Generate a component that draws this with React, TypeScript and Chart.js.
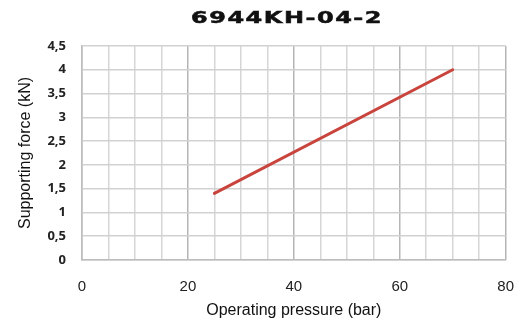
import React, { useEffect, useRef } from "react";
import { Chart, registerables } from "chart.js";

Chart.register(...registerables);

const TITLE = "6944KH-04-2";
const pressure = [25, 70];
const force = [1.4, 4.0];
const xTickLabels = [0, 20, 40, 60, 80];
const yTitle = "Supporting force (kN)";
const xTitle = "Operating pressure (bar)";

export default function App() {
  const ref = useRef<HTMLCanvasElement | null>(null);
  useEffect(() => {
    if (!ref.current) return;
    const chart = new Chart(ref.current, {
      type: "line",
      data: {
        datasets: [
          {
            data: pressure.map((p, i) => ({ x: p, y: force[i] })),
            borderColor: "#c9443d",
            backgroundColor: "#c9443d",
            borderWidth: 3,
            pointRadius: 0,
            borderCapStyle: "round",
            tension: 0,
          },
        ],
      },
      options: {
        animation: false,
        responsive: false,
        maintainAspectRatio: false,
        layout: { padding: { top: 46, right: 26, left: 0, bottom: 0 } },
        plugins: { legend: { display: false }, tooltip: { enabled: false }, title: { display: false } },
        scales: {
          x: {
            type: "linear",
            min: 0,
            max: 80,
            afterFit: (s: any) => {
              s.height = 63;
            },
            border: { display: true, color: "#bdbdbd", width: 1.5 },
            grid: {
              drawTicks: false,
              lineWidth: 1.5,
              color: (ctx: any) =>
                ctx.tick && ctx.tick.value % 20 === 0 ? "#b5b5b5" : "#d6d6d6",
            },
            ticks: {
              stepSize: 5,
              autoSkip: false,
              maxRotation: 0,
              padding: 18,
              color: "#222",
              font: { family: "Liberation Sans", size: 15 },
              callback: (v: any) => (xTickLabels.includes(Number(v)) ? String(v) : ""),
            },
            title: {
              display: true,
              text: xTitle,
              color: "#111",
              font: { family: "Liberation Sans", size: 16 },
              padding: { top: 0, bottom: 3 },
            },
          },
          y: {
            type: "linear",
            min: 0,
            max: 4.5,
            afterFit: (s: any) => {
              s.width = 82;
            },
            border: { display: true, color: "#bdbdbd", width: 1.5 },
            grid: { drawTicks: false, lineWidth: 1.5, color: "#d1d1d1" },
            ticks: {
              stepSize: 0.5,
              padding: 16,
              color: "#222",
              font: { family: "Open Sans", size: 13, weight: "bold" },
              callback: (v: any) => String(Number(v)).replace(".", ","),
            },
            title: {
              display: true,
              text: yTitle,
              color: "#111",
              font: { family: "Liberation Sans", size: 16 },
              padding: { top: 16, bottom: 0 },
            },
          },
        },
      },
    } as any);
    return () => chart.destroy();
  }, []);
  return (
    <div style={{ position: "fixed", left: 0, top: 0, width: 532, height: 323, background: "#fff" }}>
      <canvas ref={ref} width={532} height={323} style={{ width: 532, height: 323, display: "block" }} />
      <div
        style={{
          position: "absolute",
          left: 287,
          top: 18,
          transform: "translate(-50%, -50%) scaleX(1.5)",
          fontFamily: "DejaVu Sans",
          fontWeight: "bold",
          fontSize: 16,
          letterSpacing: 1,
          color: "#111",
          WebkitTextStroke: "0.5px #111",
          whiteSpace: "nowrap",
          lineHeight: "18px",
        }}
      >
        {TITLE}
      </div>
    </div>
  );
}
